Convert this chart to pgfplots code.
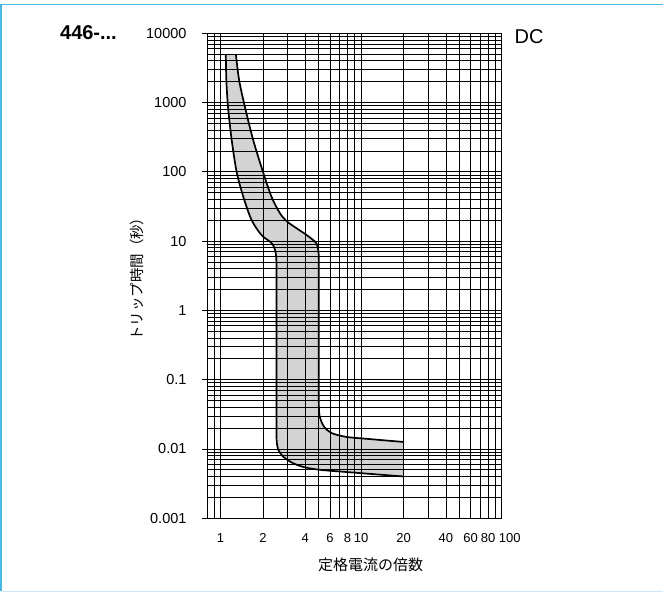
\documentclass[border=0pt]{standalone}
\usepackage{fontspec}
\setmainfont{Liberation Sans}
\newfontfamily\cjk{Noto Sans CJK JP}
\usepackage{pgfplots}
\pgfplotsset{compat=1.18}
\usepgfplotslibrary{fillbetween}
\definecolor{frameblue}{RGB}{72,184,230}
\definecolor{framelight}{RGB}{205,232,246}
\definecolor{bandgray}{RGB}{211,211,211}
\begin{document}
\begin{tikzpicture}
\path (0,0) rectangle (664bp,594bp);
\draw[frameblue, line width=1.3bp] (664bp,589.3bp) -- (1bp,589.3bp) -- (1bp,2bp);
\draw[framelight, line width=1.3bp] (1bp,2bp) -- (664bp,2bp);
\begin{axis}[
  at={(207.1bp,75.3bp)}, anchor=south west,
  scale only axis, width=295.2bp, height=485.4bp,
  xmode=log, ymode=log,
  xmin=0.8, xmax=100, ymin=0.001, ymax=10000,
  axis on top,
  xtick={1,2,4,6,8,10,20,40,60,80,100},
  xticklabels={1,2,4,6,8,10,20,40,60,80,\makebox[0pt][l]{\hspace{-3bp}100}},
  minor xtick={0.8,0.9,3,5,7,9,30,50,70,90},
  ytick={0.001,0.01,0.1,1,10,100,1000,10000},
  yticklabels={0.001,0.01,0.1,1,10,100,1000,10000},
  minor ytick={0.002,0.003,0.004,0.005,0.006,0.007,0.008,0.009,
    0.02,0.03,0.04,0.05,0.06,0.07,0.08,0.09,
    0.2,0.3,0.4,0.5,0.6,0.7,0.8,0.9,
    2,3,4,5,6,7,8,9,
    20,30,40,50,60,70,80,90,
    200,300,400,500,600,700,800,900,
    2000,3000,4000,5000,6000,7000,8000,9000},
  grid=both,
  major grid style={black, line width=0.7bp},
  minor grid style={black, line width=0.7bp},
  axis line style={black, line width=0.7bp},
  xtick style={draw=none},
  ytick style={black, line width=0.7bp},
  minor tick length=0pt,
  major tick length=5bp,
  tick align=outside,
  ytick pos=left, xtick pos=bottom,
  xticklabel style={font=\fontsize{13bp}{15bp}\selectfont, yshift=-6.5bp},
  yticklabel style={font=\fontsize{14.5bp}{17bp}\selectfont, xshift=-12bp},
  xlabel={\cjk 定格電流の倍数},
  xlabel style={at={(axis description cs:0.555,-0.0968)}, anchor=center, font=\fontsize{15bp}{18bp}\selectfont},
  ylabel={\cjk トリップ時間（秒）},
  ylabel style={at={(axis description cs:-0.2358,0.5)}, anchor=center, font=\fontsize{14.5bp}{17bp}\selectfont},
]
\addplot[name path=A, black, line width=1.7bp, smooth, tension=0.5] coordinates {
(1.09,5000) (1.10,2120) (1.13,870) (1.20,290) (1.30,101) (1.45,44) (1.66,20.3)
(1.95,12.3) (2.265,9.7) (2.39,8.4) (2.47,6.7) (2.495,5.2) (2.5,4.0) (2.5,1) (2.5,0.1)
(2.5,0.02) (2.505,0.0136) (2.53,0.0112)
(2.566,0.0098) (2.78,0.0078) (3.19,0.0064) (3.86,0.0055) (5.07,0.0050) (8.28,0.0046) (20,0.0040)
};
\addplot[name path=B, black, line width=1.7bp, smooth, tension=0.5] coordinates {
(1.285,5000) (1.355,2120) (1.49,870) (1.705,290) (2.0,101) (2.3,44) (2.64,25.4)
(2.97,19.2) (3.46,15.4) (4.08,12.3) (4.68,9.9) (4.85,9.0) (4.97,7.1) (5.0,5.5) (5.0,4)
(5.0,1) (5.0,0.1) (5.0,0.055)
(5.005,0.0412) (5.07,0.0296) (5.42,0.0212) (6.14,0.0170) (7.85,0.0149) (10.9,0.0140) (20,0.0126)
};
\addplot[bandgray] fill between[of=A and B];
\end{axis}
\node[anchor=base west, inner sep=0, font=\bfseries\fontsize{20bp}{24bp}\selectfont] at (60bp,554.7bp) {446-...};
\node[anchor=base west, inner sep=0, font=\fontsize{20bp}{24bp}\selectfont] at (515bp,550.7bp) {DC};
\end{tikzpicture}
\end{document}
